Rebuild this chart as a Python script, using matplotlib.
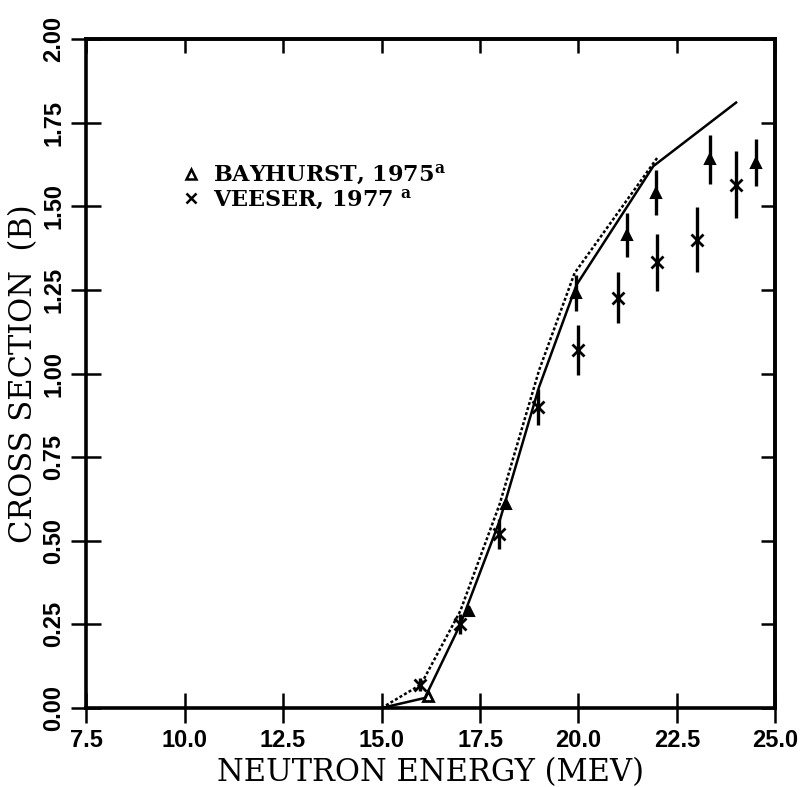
import numpy as np
import matplotlib
matplotlib.use("Agg")
from matplotlib import pyplot as plt
from matplotlib.lines import Line2D

# calculated cross sections (piecewise curves)
calc_e = [15.0, 16.1, 17.0, 18.0, 19.0, 19.95, 21.9, 24.0]
calc_solid = [0.0, 0.03, 0.25, 0.56, 0.96, 1.265, 1.62, 1.81]
dash_e = [15.0, 16.0, 17.0, 18.0, 19.0, 19.9, 22.0]
calc_dashed = [0.0, 0.07, 0.29, 0.61, 1.01, 1.30, 1.645]

# Bayhurst, 1975
bay_e = [16.18, 17.23, 18.16, 19.94, 21.24, 21.96, 23.33, 24.5]
bay_xs = [0.035, 0.29, 0.61, 1.24, 1.414, 1.54, 1.64, 1.63]
bay_err = [0.0, 0.0, 0.0, 0.054, 0.065, 0.067, 0.072, 0.07]

# Veeser, 1977
vee_e = [15.97, 17.0, 17.99, 18.98, 19.99, 21.0, 22.0, 23.0, 24.0]
vee_xs = [0.07, 0.25, 0.52, 0.90, 1.07, 1.226, 1.333, 1.40, 1.564]
vee_err = [0.02, 0.03, 0.045, 0.055, 0.075, 0.076, 0.085, 0.097, 0.10]

xticks = [7.5, 10.0, 12.5, 15.0, 17.5, 20.0, 22.5, 25.0]
yticks = [0.0, 0.25, 0.5, 0.75, 1.0, 1.25, 1.5, 1.75, 2.0]

plt.rcParams["mathtext.fontset"] = "dejavuserif"
tick_font = dict(family=["Liberation Sans Narrow", "Liberation Sans", "DejaVu Sans"],
                 weight="bold", size=17)
label_font = dict(family="DejaVu Serif", size=22)

fig = plt.figure(figsize=(8.12, 7.87), dpi=100)
ax = fig.add_axes([0.106, 0.1004, 0.849, 0.850])

ax.plot(calc_e, calc_solid, color="black", lw=1.8)
ax.plot(dash_e, calc_dashed, color="black", lw=1.8, ls=(0, (1.2, 0.9)))

# first Bayhurst point drawn open, the rest look solid in the scan
ax.errorbar(bay_e[:1], bay_xs[:1], fmt="^", ms=7, mfc="none", mec="black", mew=2.0)
ax.errorbar(bay_e[1:], bay_xs[1:], yerr=bay_err[1:], fmt="^", ms=7, mfc="black",
            mec="black", mew=1.5, ecolor="black", elinewidth=2.4, capsize=0)
ax.errorbar(vee_e, vee_xs, yerr=vee_err, fmt="x", ms=9, mec="black",
            mew=2.0, ecolor="black", elinewidth=2.4, capsize=0)

ax.set_xlim(7.5, 25.0)
ax.set_ylim(0.0, 2.0)
ax.set_xticks(xticks)
ax.set_xticklabels([f"{v:.1f}" for v in xticks], fontdict=tick_font)
ax.set_yticks(yticks)
ax.set_yticklabels([f"{v:.2f}" for v in yticks], fontdict=tick_font,
                   rotation=90, va="center")
ax.tick_params(direction="inout", length=22, width=1.8, pad=4)

top = ax.secondary_xaxis("top")
top.set_xticks(xticks)
top.tick_params(direction="in", length=10, width=1.8, labeltop=False)
right = ax.secondary_yaxis("right")
right.set_yticks(yticks)
right.tick_params(direction="in", length=10, width=1.8, labelright=False)

for s in ax.spines.values():
    s.set_linewidth(2.6)
for s in list(top.spines.values()) + list(right.spines.values()):
    s.set_linewidth(2.6)

ax.set_xlabel("NEUTRON ENERGY (MEV)", fontdict=label_font, labelpad=4)
ax.set_ylabel("CROSS SECTION  (B)", fontdict=label_font, labelpad=2)

handles = [
    Line2D([], [], ls="none", marker="^", ms=7, mfc="none", mec="black", mew=1.8),
    Line2D([], [], ls="none", marker="x", ms=7, mec="black", mew=1.8),
]
labels = ["BAYHURST, 1975$^{\\mathbf{a}}$", "VEESER, 1977 $^{\\mathbf{a}}$"]
ax.legend(handles, labels, loc="upper left", bbox_to_anchor=(0.11, 0.845),
          frameon=False, handlelength=0.8, handletextpad=0.6, labelspacing=0.0,
          prop=dict(family="DejaVu Serif", weight="bold", size=16))

fig.savefig("out.png", dpi=100)
